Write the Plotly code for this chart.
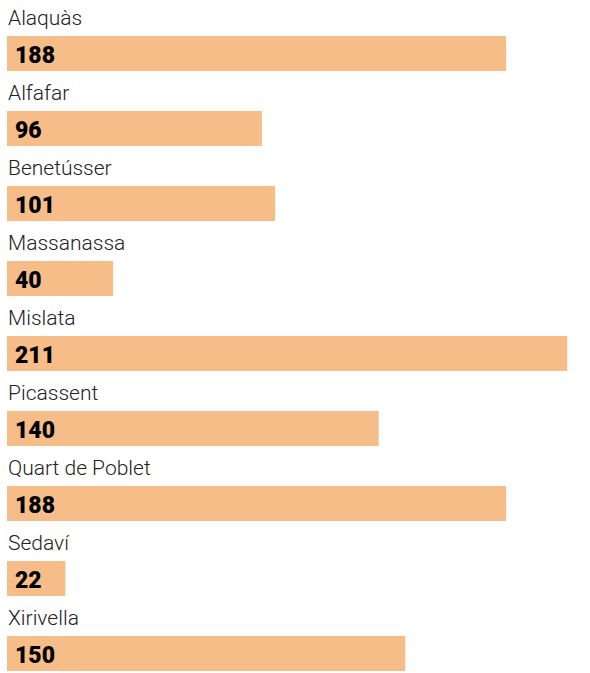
import plotly.graph_objects as go

municipalities = ["Alaquàs", "Alfafar", "Benetússer", "Massanassa", "Mislata",
                  "Picassent", "Quart de Poblet", "Sedaví", "Xirivella"]
values = [188, 96, 101, 40, 211, 140, 188, 22, 150]

W, H = 590, 673
row_h = 75
bar_top = 36
bar_h = 35
px_per_unit = 2.655
left = 7

ys = [bar_top + bar_h / 2 + row_h * i for i in range(len(values))]

fig = go.Figure(go.Bar(
    x=values, y=ys, orientation="h", width=bar_h,
    marker=dict(color="#F7BD88", line=dict(width=0)),
    hoverinfo="skip",
))

for i, (name, v) in enumerate(zip(municipalities, values)):
    fig.add_annotation(x=(left - 1) / W, xref="paper", y=18 + row_h * i, yref="y",
                       text=name, showarrow=False, xanchor="left", yanchor="middle",
                       font=dict(family="Roboto", size=21, color="#222222", weight=300))
    fig.add_annotation(x=(left + 6) / W, xref="paper", y=ys[i] + 1.5, yref="y",
                       text=str(v), showarrow=False, xanchor="left", yanchor="middle",
                       font=dict(family="Roboto", size=23, color="#000000", weight=900))

fig.update_layout(
    width=W, height=H, margin=dict(l=0, r=0, t=0, b=0),
    plot_bgcolor="white", paper_bgcolor="white", showlegend=False,
    xaxis=dict(range=[-left / px_per_unit, (W - left) / px_per_unit], visible=False, fixedrange=True),
    yaxis=dict(range=[H, 0], visible=False, fixedrange=True),
)

fig.write_html("out.html", config={"displayModeBar": False})
